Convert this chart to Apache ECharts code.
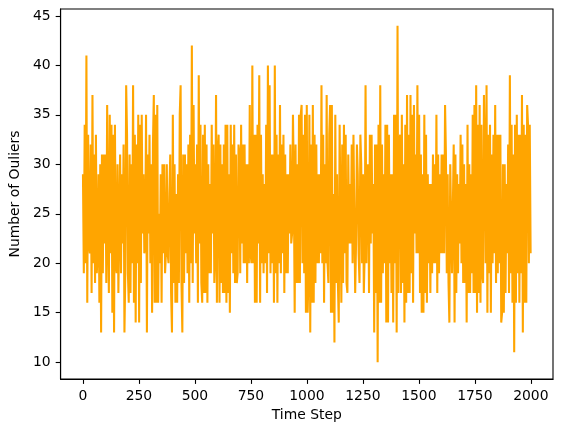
<!DOCTYPE html>
<html>
<head>
<meta charset="utf-8">
<script src="https://cdn.jsdelivr.net/npm/echarts@6/dist/echarts.min.js"></script>
<style>
  html, body { margin: 0; padding: 0; background: #fff; }
  #chart { width: 563px; height: 432px; }
</style>
</head>
<body>
<div id="chart"></div>
<script>
// outlier counts, in time order (evenly spaced over 0..1999)
const outliersFirstHalf = [
  29, 19, 34, 20, 41, 16, 33, 22, 21, 32, 17, 37, 20, 31, 18, 33, 19, 21, 29, 16,
  30, 13, 31, 19, 31, 22, 31, 18, 36, 23, 17, 35, 21, 34, 15, 33, 13, 34, 20, 19,
  30, 17, 17, 31, 19, 29, 22, 32, 13, 19, 38, 33, 19, 16, 31, 17, 30, 20, 38, 16,
  33, 14, 32, 20, 35, 14, 34, 18, 35, 23, 29, 21, 22, 35, 13, 31, 23, 33, 20, 30,
  15, 32, 37, 16, 35, 16, 36, 16, 25, 20, 29, 16, 30, 21, 30, 19, 21, 30, 21, 20,
  27, 31, 17, 13, 35, 18, 30, 16, 27, 16, 29, 18, 35, 38, 18, 13, 31, 18, 31, 21,
  30, 19, 32, 16, 33, 20, 42, 18, 36, 23, 30, 20, 32, 16, 39, 22, 34, 18, 16, 33,
  17, 34, 17, 32, 16, 30, 19, 28, 19, 34, 23, 32, 18, 21, 37, 16, 31, 33, 16, 32,
  18, 30, 17, 32, 17, 34, 16, 34, 17, 29, 15, 34, 21, 32, 19, 34, 18, 31, 18, 19,
  32, 31, 19, 34, 22, 32, 20, 32, 20, 30, 18, 30, 20, 36, 21, 20, 40, 20, 33, 16,
  33, 16, 34, 22, 39, 16, 33, 20, 29, 19, 28, 20, 34, 17, 40, 21, 38, 19, 31, 20,
  31, 16, 40, 19, 33, 16, 31, 20, 36, 19, 32, 21, 33, 17, 31, 19, 29, 19, 29, 23,
  32, 22, 23, 35, 28, 15, 32, 18, 30, 18, 35, 18, 35, 36, 20, 33, 19, 35, 15
];
const outliersSecondHalf = [
  36, 15, 19, 35, 13, 32, 16, 36, 16, 33, 18, 32, 20, 29, 20, 29, 21, 38, 20, 33,
  16, 30, 20, 37, 20, 18, 33, 36, 15, 36, 15, 27, 12, 35, 18, 29, 18, 14, 34, 34,
  16, 32, 18, 34, 21, 33, 18, 17, 31, 22, 28, 22, 32, 20, 33, 33, 17, 22, 32, 29,
  21, 18, 33, 30, 20, 29, 17, 21, 38, 20, 29, 30, 17, 33, 22, 33, 23, 28, 13, 32,
  17, 32, 10, 34, 16, 38, 16, 32, 19, 29, 20, 34, 14, 34, 14, 33, 20, 29, 17, 29,
  14, 35, 20, 35, 13, 44, 17, 32, 33, 17, 35, 18, 30, 14, 34, 16, 37, 17, 33, 17,
  37, 19, 35, 16, 36, 23, 31, 21, 38, 21, 35, 17, 31, 15, 29, 15, 35, 17, 33, 16,
  29, 20, 28, 17, 28, 19, 31, 20, 30, 20, 35, 17, 31, 19, 29, 21, 31, 21, 31, 21,
  36, 31, 19, 29, 18, 14, 30, 30, 19, 19, 32, 14, 31, 17, 29, 19, 28, 22, 33, 20,
  32, 18, 30, 18, 28, 14, 34, 17, 30, 17, 29, 19, 35, 17, 36, 17, 38, 15, 34, 17,
  36, 16, 34, 19, 18, 37, 31, 20, 38, 15, 33, 19, 34, 15, 31, 20, 33, 21, 36, 18,
  33, 19, 33, 20, 33, 14, 15, 30, 15, 30, 17, 28, 21, 32, 17, 39, 19, 34, 16, 31,
  11, 34, 16, 35, 19, 33, 16, 33, 19, 37, 13, 34, 16, 33, 16, 36, 34, 20, 34, 21
];
const xTicks = [0, 250, 500, 750, 1000, 1250, 1500, 1750, 2000];
const yTicks = [10, 15, 20, 25, 30, 35, 40, 45];

const outliers = outliersFirstHalf.concat(outliersSecondHalf);
const lastStep = 1999;
const seriesData = outliers.map((v, i) => [i * lastStep / (outliers.length - 1), v]);

const font = 'DejaVu Sans';
const chart = echarts.init(document.getElementById('chart'), null, { renderer: 'canvas' });
chart.setOption({
  animation: false,
  backgroundColor: '#fff',
  grid: {
    left: 58,
    right: 10,
    top: 9,
    bottom: 53,
    show: true,
    borderColor: '#000',
    borderWidth: 1.1,
    backgroundColor: 'transparent'
  },
  xAxis: {
    type: 'value',
    min: -99.95,
    max: 2098.95,
    name: 'Time Step',
    nameLocation: 'middle',
    nameGap: 29,
    nameTextStyle: { fontFamily: font, fontSize: 13.9, color: '#000' },
    axisLine: { show: true, onZero: false, lineStyle: { color: '#000', width: 1.1 } },
    axisTick: { show: true, length: 4.9, lineStyle: { color: '#000', width: 1.1 }, customValues: xTicks },
    axisLabel: {
      fontFamily: font, fontSize: 13.9, color: '#000', margin: 10,
      customValues: xTicks,
      formatter: v => String(v)
    },
    splitLine: { show: false }
  },
  yAxis: {
    type: 'value',
    min: 8.3,
    max: 45.7,
    name: 'Number of Ouliers',
    nameLocation: 'middle',
    nameGap: 36,
    nameTextStyle: { fontFamily: font, fontSize: 13.9, color: '#000' },
    axisLine: { show: true, onZero: false, lineStyle: { color: '#000', width: 1.1 } },
    axisTick: { show: true, length: 4.9, lineStyle: { color: '#000', width: 1.1 }, customValues: yTicks },
    axisLabel: { fontFamily: font, fontSize: 13.9, color: '#000', margin: 10, customValues: yTicks },
    splitLine: { show: false }
  },
  series: [
    {
      type: 'line',
      data: seriesData,
      showSymbol: false,
      sampling: null,
      lineStyle: { color: '#FFA500', width: 2.08 },
      itemStyle: { color: '#FFA500' }
    }
  ]
});
</script>
</body>
</html>
